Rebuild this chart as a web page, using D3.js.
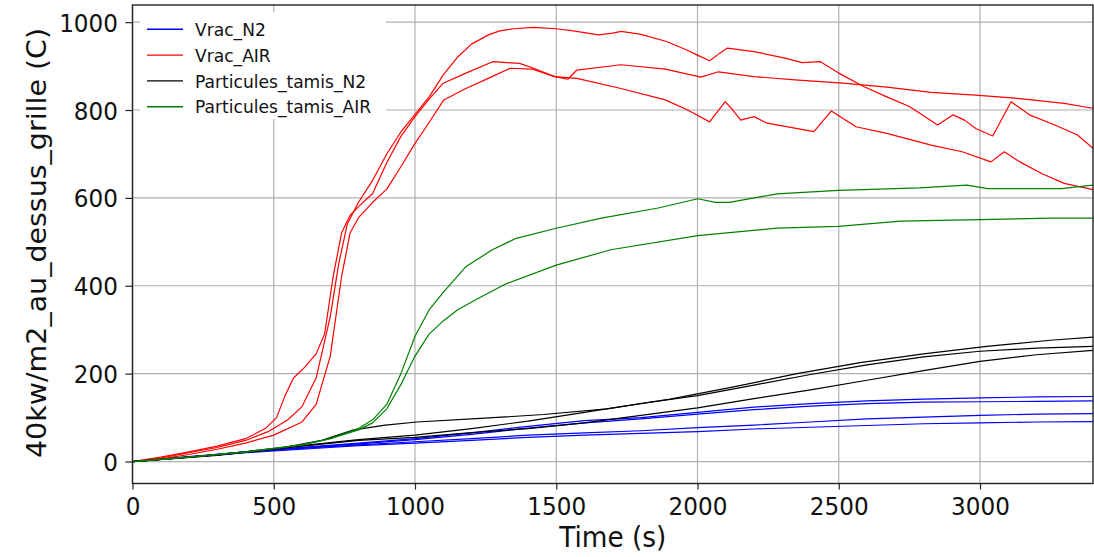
<!DOCTYPE html>
<html><head><meta charset="utf-8">
<script src="https://cdn.jsdelivr.net/npm/d3@7"></script>
<style>
body{margin:0;background:#fff}
svg{display:block}
text{font-family:"DejaVu Sans",sans-serif;fill:#111}
</style>
</head><body>
<svg id="c" width="1094" height="557"></svg>
<script>
// ---------- data: [time (s), temperature (C)] ----------
const xTicks = [0, 500, 1000, 1500, 2000, 2500, 3000];
const yTicks = [0, 200, 400, 600, 800, 1000];
const legendLabels = ["Vrac_N2", "Vrac_AIR", "Particules_tamis_N2", "Particules_tamis_AIR"];

const vracN2_1 = [[0,0],[200,10],[400,22],[600,32],[800,42],[1000,52],[1200,65],[1400,80],[1600,93],[1800,100],[2000,112],[2200,124],[2400,132],[2600,138],[2800,142],[3000,145],[3200,147],[3400,148]];
const vracN2_2 = [[0,0],[200,10],[400,21],[600,31],[800,40],[1000,50],[1200,62],[1400,76],[1600,88],[1800,97],[2000,108],[2200,118],[2400,126],[2600,132],[2800,135],[3000,136],[3200,137],[3400,138]];
const vracN2_3 = [[0,0],[200,11],[400,22],[600,30],[800,38],[1000,45],[1200,52],[1400,60],[1600,65],[1800,70],[2000,77],[2200,83],[2400,90],[2600,97],[2800,101],[3000,105],[3200,108],[3400,109]];
const vracN2_4 = [[0,0],[200,10],[400,20],[600,28],[800,36],[1000,42],[1200,48],[1400,55],[1600,60],[1800,64],[2000,68],[2200,74],[2400,78],[2600,82],[2800,86],[3000,88],[3200,90],[3400,91]];

const vracAIR_1 = [[0,0],[100,8],[200,20],[300,32],[400,48],[480,68],[550,95],[600,125],[650,190],[700,330],[730,450],[760,540],[800,590],[850,640],[900,700],[950,750],[1000,790],[1050,830],[1100,880],[1150,920],[1200,950],[1260,971],[1300,980],[1350,985],[1420,988],[1500,985],[1560,980],[1650,971],[1700,975],[1730,979],[1800,972],[1890,956],[1960,937],[2000,925],[2043,912],[2080,930],[2106,941],[2200,933],[2310,918],[2370,908],[2435,910],[2500,884],[2590,853],[2670,830],[2750,808],[2850,766],[2905,789],[2945,777],[2985,758],[3045,741],[3110,819],[3175,789],[3265,766],[3345,743],[3400,713]];
const vracAIR_2 = [[0,0],[100,10],[200,22],[300,35],[400,52],[470,75],[510,100],[540,150],[570,190],[610,215],[650,245],[680,290],[710,420],[740,520],[770,560],[800,580],[850,610],[900,680],[950,740],[1000,785],[1050,825],[1100,861],[1180,884],[1275,910],[1370,906],[1420,895],[1494,876],[1573,872],[1729,849],[1886,823],[1965,800],[2043,773],[2098,819],[2125,800],[2153,777],[2200,785],[2247,770],[2412,751],[2474,798],[2561,762],[2670,747],[2827,720],[2937,705],[3039,682],[3086,705],[3141,682],[3220,655],[3298,633],[3400,619]];
const vracAIR_3 = [[0,0],[100,6],[200,16],[300,28],[400,42],[500,60],[600,90],[650,130],[700,240],[740,420],[770,520],[800,555],[850,590],[900,620],[950,671],[1000,724],[1040,762],[1102,823],[1180,849],[1259,872],[1337,895],[1416,893],[1494,876],[1541,870],[1573,891],[1729,903],[1886,893],[2012,875],[2074,887],[2200,876],[2357,868],[2514,861],[2670,852],[2827,840],[2984,834],[3141,826],[3298,815],[3400,804]];

const tamisN2_1 = [[0,0],[300,14],[500,28],[670,48],[783,72],[895,83],[1007,90],[1231,98],[1455,107],[1679,120],[1903,142],[2128,170],[2352,200],[2576,225],[2800,245],[3024,262],[3249,276],[3400,283]];
const tamisN2_2 = [[0,0],[300,16],[600,36],[800,50],[1000,60],[1200,75],[1400,92],[1600,112],[1800,132],[2000,150],[2200,174],[2400,198],[2600,220],[2800,238],[3000,251],[3200,258],[3400,262]];
const tamisN2_3 = [[0,0],[300,15],[600,35],[800,48],[1000,55],[1200,66],[1400,75],[1600,88],[1800,105],[2000,122],[2200,143],[2400,163],[2600,185],[2800,207],[3000,228],[3200,243],[3400,253]];

const tamisAIR_1 = [[0,0],[200,10],[400,22],[600,38],[700,52],[800,75],[850,95],[900,130],[950,200],[1000,285],[1050,345],[1100,385],[1181,444],[1274,482],[1358,508],[1500,531],[1660,554],[1861,577],[2001,598],[2063,590],[2113,590],[2281,609],[2499,617],[2785,623],[2953,629],[3028,621],[3288,621],[3400,629]];
const tamisAIR_2 = [[0,0],[200,10],[400,22],[600,38],[700,52],[800,72],[850,88],[900,120],[950,175],[1000,240],[1050,290],[1100,320],[1150,345],[1223,371],[1324,405],[1500,447],[1693,482],[2001,514],[2281,531],[2499,535],[2718,547],[2953,550],[3255,554],[3400,554]];

const groups = [
  {label: legendLabels[0], color: "#0000ff", series: [vracN2_1, vracN2_2, vracN2_3, vracN2_4]},
  {label: legendLabels[1], color: "#ff0000", series: [vracAIR_1, vracAIR_2, vracAIR_3]},
  {label: legendLabels[2], color: "#000000", series: [tamisN2_1, tamisN2_2, tamisN2_3]},
  {label: legendLabels[3], color: "#008000", series: [tamisAIR_1, tamisAIR_2]}
];

// ---------- layout ----------
const SX = 0.925; // horizontal text compression of the reference
const L = 132.5, R = 1093, T = 5, B = 483.5;
const svg = d3.select("#c");
const x = d3.scaleLinear().domain([0, 3400]).range([L, R]);
const y = d3.scaleLinear().domain([-50, 1039]).range([B, T]);

// grid
const grid = svg.append("g").attr("stroke", "#b0b0b0").attr("stroke-width", 1.2);
grid.selectAll(".gx").data(xTicks).join("line")
  .attr("x1", d => x(d)).attr("x2", d => x(d)).attr("y1", T).attr("y2", B);
grid.selectAll(".gy").data(yTicks).join("line")
  .attr("x1", L).attr("x2", R).attr("y1", d => y(d)).attr("y2", d => y(d));

// lines
const clip = svg.append("clipPath").attr("id", "clp").append("rect")
  .attr("x", L).attr("y", T).attr("width", R - L).attr("height", B - T);
const line = d3.line().x(d => x(d[0])).y(d => y(d[1]));
const plotG = svg.append("g").attr("clip-path", "url(#clp)");
groups.forEach(g => {
  g.series.forEach(s => {
    plotG.append("path").attr("d", line(s)).attr("fill", "none")
      .attr("stroke", g.color).attr("stroke-width", 1.2).attr("stroke-linejoin", "round");
  });
});

// frame
svg.append("rect").attr("x", L).attr("y", T).attr("width", R - L).attr("height", B - T)
  .attr("fill", "none").attr("stroke", "#222").attr("stroke-width", 1.4);

// axes
const xAxis = svg.append("g").attr("transform", `translate(0,${B})`)
  .call(d3.axisBottom(x).tickValues(xTicks).tickFormat(d3.format("d")).tickSize(6));
xAxis.select(".domain").remove();
xAxis.selectAll("line").attr("stroke", "#222").attr("stroke-width", 1.2);
xAxis.selectAll("text").attr("y", 31.5).attr("dy", 0)
  .attr("transform", `scale(${SX},1)`)
  .style("font-size", "25px").style("font-family", "DejaVu Sans").attr("fill", "#111");

const yAxis = svg.append("g").attr("transform", `translate(${L},0)`)
  .call(d3.axisLeft(y).tickValues(yTicks).tickFormat(d3.format("d")).tickSize(7));
yAxis.select(".domain").remove();
yAxis.selectAll("line").attr("stroke", "#222").attr("stroke-width", 1.2);
yAxis.selectAll("text").attr("x", 0).attr("dy", "0.36em")
  .attr("transform", `translate(-14.5,0) scale(${SX},1)`)
  .style("font-size", "25px").style("font-family", "DejaVu Sans").attr("fill", "#111");

// axis labels
svg.append("text").attr("transform", `translate(${(L + R) / 2},546.7) scale(${SX},1)`)
  .attr("text-anchor", "middle").style("font-size", "28.5px").text("Time (s)");
svg.append("text").attr("transform", `translate(45.5,243) scale(${SX},1) rotate(-90)`)
  .attr("text-anchor", "middle").style("font-size", "28.5px").text("40kw/m2_au_dessus_grille (C)");

// legend
const lg = svg.append("g");
lg.append("rect").attr("x", 140).attr("y", 12).attr("width", 246).attr("height", 107).attr("fill", "#fff");
groups.forEach((g, i) => {
  const ly = 29.3 + i * 25.8;
  lg.append("line").attr("x1", 147).attr("x2", 183).attr("y1", ly).attr("y2", ly)
    .attr("stroke", g.color).attr("stroke-width", 1.4);
  lg.append("text").attr("transform", `translate(195,${ly + 6.7}) scale(${SX},1)`)
    .style("font-size", "18.5px").text(g.label);
});
</script>
</body></html>
